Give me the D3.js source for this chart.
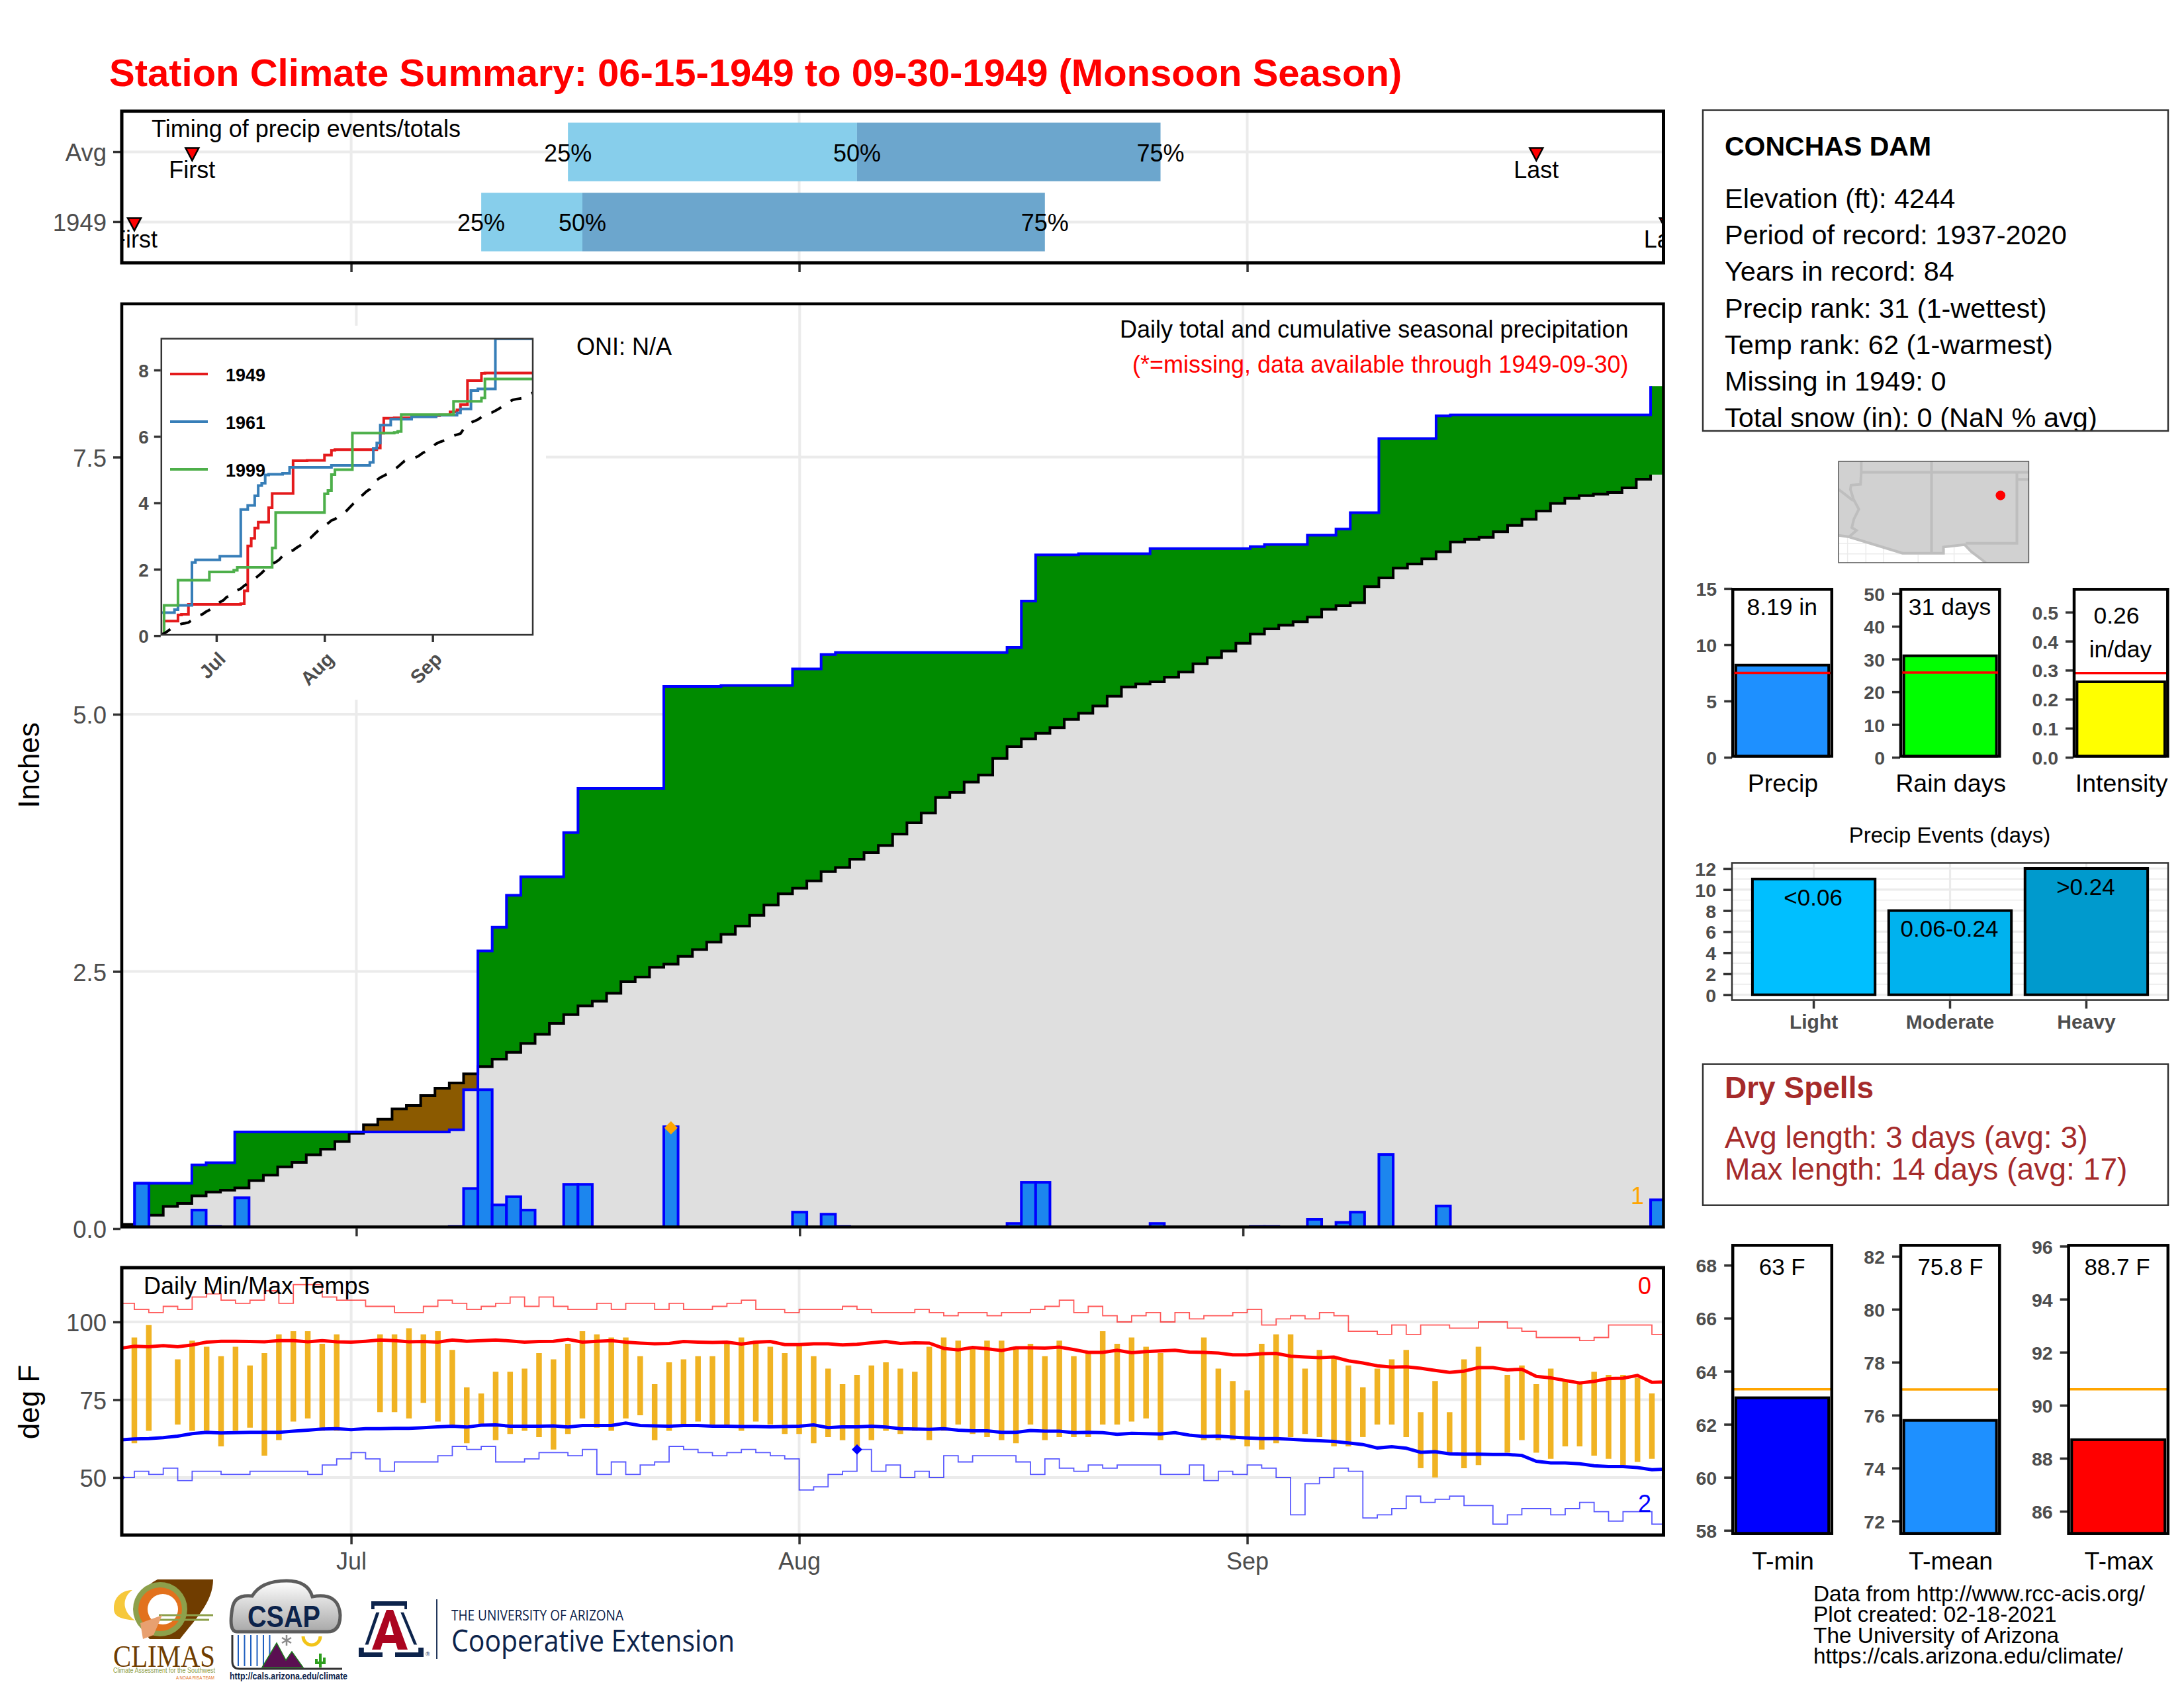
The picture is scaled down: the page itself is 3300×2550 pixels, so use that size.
<!DOCTYPE html>
<html>
<head>
<meta charset="utf-8">
<script src="https://cdn.jsdelivr.net/npm/d3@7"></script>
<style>
  html, body { margin: 0; padding: 0; background: #fff; }
  text { font-family: "Liberation Sans", Arial, sans-serif; }
</style>
</head>
<body>
<svg id="chart" width="3300" height="2550"></svg>
<script>
// day index: 0 = Jun 15, 107 = Sep 30
const monthDays = [16, 47, 78];
const monthNames = ["Jul", "Aug", "Sep"];

// timing panel
const timingRows = ["Avg", "1949"];
const timingQ25 = [31, 25];
const timingQ50 = [51, 32];
const timingQ75 = [72, 64];
const timingFirst = [5, 1];
const timingLast = [98, 107];

// daily precip (only the days with rain)
const rainDayIndex = [1, 5, 6, 8, 23, 24, 25, 26, 27, 28, 31, 32, 38, 42, 47, 49, 50, 62, 63, 64, 67, 72, 79, 80, 83, 85, 86, 88, 92, 93, 107];
const rainAmounts = [0.44, 0.18, 0.02, 0.30, 0.02, 0.39, 1.35, 0.23, 0.31, 0.18, 0.43, 0.43, 0.99, 0.01, 0.16, 0.14, 0.02, 0.05, 0.45, 0.45, 0.01, 0.05, 0.02, 0.02, 0.09, 0.06, 0.16, 0.72, 0.22, 0.01, 0.28];

// long term average cumulative precip
const avgCumulative = [
  0.04, 0.06, 0.13, 0.215, 0.245, 0.318, 0.355, 0.374, 0.396, 0.466,
  0.52, 0.60, 0.643, 0.717, 0.772, 0.846, 0.927, 1.008, 1.064, 1.163,
  1.197, 1.293, 1.364, 1.415, 1.504, 1.575, 1.648, 1.714, 1.80, 1.888,
  1.995, 2.08, 2.165, 2.21, 2.287, 2.40, 2.446, 2.54, 2.57, 2.647,
  2.713, 2.785, 2.86, 2.94, 3.045, 3.145, 3.255, 3.31, 3.38, 3.47,
  3.51, 3.59, 3.655, 3.725, 3.835, 3.945, 4.04, 4.19, 4.24, 4.34,
  4.41, 4.57, 4.685, 4.76, 4.815, 4.87, 4.95, 5.01, 5.08, 5.175,
  5.265, 5.295, 5.315, 5.36, 5.41, 5.49, 5.55, 5.615, 5.69, 5.78,
  5.83, 5.865, 5.90, 5.945, 6.02, 6.055, 6.085, 6.24, 6.325, 6.42,
  6.46, 6.51, 6.58, 6.675, 6.70, 6.72, 6.775, 6.835, 6.895, 6.975,
  7.05, 7.10, 7.125, 7.14, 7.155, 7.20, 7.285, 7.33
];

// inset analog years, change points only
const analog1961Days = [0, 4, 5, 9, 10, 17, 23, 25, 27, 28, 29, 30, 31, 35, 37, 49, 60, 61, 62, 63, 66, 72, 79, 85, 86, 89, 91, 96];
const analog1961Values = [0.69, 0.78, 0.91, 2.2, 2.28, 2.39, 3.80, 3.92, 4.21, 4.52, 4.59, 4.84, 4.86, 4.89, 5.07, 5.13, 5.22, 5.64, 5.80, 6.34, 6.52, 6.59, 6.64, 6.71, 6.83, 7.38, 7.43, 8.94];
const analog1999Days = [0, 1, 5, 14, 21, 22, 32, 33, 47, 48, 49, 50, 55, 67, 68, 69, 84, 92, 93];
const analog1999Values = [0, 0.91, 1.67, 1.92, 1.97, 2.06, 2.64, 3.71, 4.27, 4.37, 4.85, 5.0, 6.10, 6.12, 6.15, 6.66, 7.06, 7.16, 7.73];
const legendYears = ["1949", "1961", "1999"];

// daily temps
const tMax = [
  null, 95, 99, null, 88, 94, 92, 89, 92, 86,
  90, 96, 97, 97, 93, 96, null, null, 96, 96,
  98, 96, 97, 91, 79, 77, 84, 84, 85, 90,
  88, 93, 97, 96, 95, 95, 89, 80, 87, 88,
  89, 89, 93, 95, 94, 92, 90, 93, 89, 85,
  80, 83, 86, 87, 85, 84, 92, 95, 94, 92,
  94, 94, 92, 93, 89, 94, 89, 90, 97, 93,
  95, 92, 90, null, null, 95, 85, 81, 78, 93,
  96, 96, 85, 91, 89, 86, 79, 85, 88, 91,
  71, 81, 71, 88, 92, null, 83, 86, 80, 85,
  81, 80, 84, 83, 83, 82, 77, null
];
const tMin = [
  null, 61, 65, null, 67, 65, 65, 60, 65, 66,
  57, 62, 68, 69, 65, 65, null, null, 71, 71,
  69, 74, 68, 66, 61, 67, 62, 64, 65, 63,
  59, 64, 69, 66, 65, 69, 70, 62, 65, 67,
  68, 67, 66, 65, 68, 67, 64, 64, 61, 63,
  62, 60, 62, 65, 64, 65, 62, 65, 67, 64,
  63, 62, 61, 67, 62, 63, 63, 63, 67, 67,
  68, 69, 62, null, null, 62, 62, 62, 60, 59,
  61, 63, 64, 63, 60, 60, 63, 67, 67, 63,
  53, 50, 58, 53, 54, null, 58, 62, 58, 56,
  60, 60, 57, 56, 54, 55, 56, null
];
const tMaxAvg = [
  91.5, 92.2, 92.0, 92.4, 92.0, 92.6, 93.5, 93.8, 93.8, 93.7,
  93.6, 94.0, 94.0, 93.6, 94.0, 93.6, 93.5, 93.8, 94.2, 94.0,
  93.6, 93.7, 93.5, 94.2, 93.8, 94.0, 94.2, 93.9, 93.5, 93.7,
  93.8, 94.4, 93.5, 93.8, 94.0, 93.5, 93.2, 93.0, 93.1, 93.7,
  93.5, 93.4, 93.5, 92.9, 93.5, 93.7, 92.7, 92.7, 93.0, 93.0,
  92.6, 92.8, 93.3, 93.7, 93.1, 93.3, 93.2, 91.5, 91.0, 91.8,
  91.4, 90.8, 91.7, 91.7, 91.6, 91.9, 91.1, 90.2, 90.2, 90.9,
  90.1, 90.5, 90.7, 90.9, 90.3, 90.2, 90.0, 89.4, 89.4, 89.8,
  89.9, 89.0, 88.7, 88.5, 88.7, 87.5, 86.8, 85.9, 85.5, 85.6,
  85.1, 84.4, 83.8, 84.2, 85.3, 85.3, 84.6, 84.8, 82.5, 82.0,
  81.2, 80.4, 80.9, 81.8, 81.9, 82.8, 80.6, 80.7
];
const tMinAvg = [
  62.1, 62.4, 62.5, 62.8, 63.3, 64.1, 64.5, 64.3, 64.4, 64.5,
  64.5, 64.5, 64.9, 65.2, 65.6, 65.7, 65.4, 65.7, 65.7, 65.8,
  65.8, 66.0, 66.3, 66.5, 66.2, 66.8, 66.9, 66.5, 66.5, 66.5,
  66.6, 66.2, 66.7, 66.7, 66.7, 67.5, 66.7, 66.6, 66.5, 66.7,
  66.7, 66.5, 66.5, 66.4, 66.4, 66.3, 66.4, 66.5, 66.9, 66.0,
  66.3, 66.3, 66.5, 66.2, 65.7, 65.6, 65.5, 65.7, 65.2, 65.0,
  65.0, 64.5, 64.5, 65.1, 64.9, 64.9, 64.4, 64.5, 64.4, 63.9,
  64.2, 64.1, 64.0, 64.4, 63.6, 63.2, 63.3, 63.0, 62.7, 62.5,
  62.5, 62.3, 62.0, 61.8, 61.6, 61.1, 60.6, 59.5, 59.9, 59.4,
  58.1, 58.3, 57.6, 57.5, 57.5, 57.4, 57.4, 57.1, 55.2, 54.7,
  54.7, 54.4, 53.8, 53.5, 53.5, 53.2, 52.5, 52.7
];
const recordHigh = [
  106, 104, 103, 105, 104, 108, 109, 107, 106, 107,
  110, 106, 112, 112, 108, 107, 107, 105, 105, 103,
  103, 105, 107, 106, 104, 105, 106, 108, 105, 108,
  105, 104, 104, 106, 104, 106, 106, 104, 106, 104,
  104, 105, 106, 107, 104, 104, 103, 104, 104, 104,
  105, 104, 103, 103, 103, 104, 103, 102, 103, 103,
  102, 103, 103, 104, 105, 107, 103, 105, 102, 100,
  102, 103, 100, 103, 101, 102, 102, 103, 104, 99,
  101, 102, 101, 103, 102, 97, 97, 96, 99, 96,
  99, 99, 98, 98, 100, 100, 98, 97, 95, 95,
  95, 94, 95, 99, 99, 99, 96, 96
];
const recordLow = [
  50, 52, 51, 53, 49, 52, 52, 51, 51, 52,
  52, 52, 52, 51, 54, 56, 58, 56, 52, 55,
  55, 55, 57, 60, 59, 60, 55, 55, 56, 58,
  58, 57, 59, 51, 55, 51, 54, 55, 60, 59,
  58, 57, 58, 59, 58, 57, 56, 46, 47, 51,
  52, 59, 52, 54, 50, 52, 50, 57, 55, 57,
  57, 57, 55, 51, 56, 53, 52, 54, 53, 54,
  54, 54, 51, 51, 54, 49, 52, 51, 54, 53,
  50, 38, 48, 50, 53, 52, 37, 38, 40, 44,
  42, 43, 44, 41, 41, 35, 38, 40, 40, 38,
  40, 42, 39, 36, 39, 39, 35, 35
];
const precipRecordDay = [38];
const precipRecordValue = [0.98];
const lowRecordDays = [0, 51];
const lowRecordValues = [50, 59];

// station text
const stationName = "CONCHAS DAM";
const stationLines = ["Elevation (ft): 4244", "Period of record: 1937-2020", "Years in record: 84", "Precip rank: 31 (1-wettest)", "Temp rank: 62 (1-warmest)", "Missing in 1949: 0", "Total snow (in): 0 (NaN % avg)"];
const drySpellLines = ["Avg length: 3 days (avg: 3)", "Max length: 14 days (avg: 17)"];
const footerLines = ["Data from http://www.rcc-acis.org/", "Plot created: 02-18-2021", "The University of Arizona", "https://cals.arizona.edu/climate/"];

// summary bars
const precipSummaryNames = ["Precip", "Rain days", "Intensity"];
const precipSummaryValues = [8.19, 31, 0.26];
const precipSummaryAvg = [7.5, 25.9, 0.29];
const tempSummaryNames = ["T-min", "T-mean", "T-max"];
const tempSummaryValues = [63, 75.8, 88.7];
const tempSummaryAvg = [63.32, 76.97, 90.6];
const eventNames = ["Light", "Moderate", "Heavy"];
const eventValues = [11, 8, 12];
const eventLabels = ["<0.06", "0.06-0.24", ">0.24"];

// little locator map, lon/lat
const mexicoBorder = [[-115.64, 32.56], [-114.9, 32.45], [-111.1, 31.3], [-108.2, 31.3], [-108.2, 31.74], [-106.7, 31.9], [-106.25, 31.42], [-105.2, 30.63]];
const azWestBorder = [[-114.03, 37.77], [-114.03, 37], [-114.08, 36.15], [-114.75, 36.1], [-114.8, 35.8], [-114.58, 35.1], [-114.2, 34.4], [-114.35, 34.1], [-114.55, 33.7], [-114.7, 33.1], [-114.37, 32.9], [-114.9, 32.45]];
const caNvBorder = [[-115.64, 35.8], [-114.6, 35.0]];
const stateLines = [
  [[-109.05, 37.77], [-109.05, 31.33]],
  [[-114.03, 37], [-102.16, 37]],
  [[-103, 37], [-103, 32], [-106.62, 32]],
  [[-103, 36.5], [-102.16, 36.5]]
];
const graticuleLons = [-115, -113.7, -112.45, -110, -107.45];
const graticuleLats = [32, 31.25];
const stationLonLat = [-104.16, 35.37];

// ------- helpers
const svg = d3.select("#chart");
const GREY_TEXT = "#4D4D4D", GRID = "#EBEBEB", TICK = "#333333";
const days = d3.range(108);

function label(g, x, y, str, size, opts) {
  const o = opts || {};
  const t = g.append("text")
    .attr("x", x).attr("y", y).attr("dy", "0.39em")
    .attr("font-size", size)
    .attr("text-anchor", o.anchor || "start")
    .attr("font-weight", o.weight || "normal")
    .attr("fill", o.fill || "#000")
    .text(str);
  if (o.length) t.attr("textLength", o.length).attr("lengthAdjust", "spacingAndGlyphs");
  if (o.family) t.style("font-family", o.family);
  return t;
}

function styleAxis(g, size, weight) {
  g.select(".domain").remove();
  g.selectAll("line").attr("stroke", TICK).attr("stroke-width", 3.5);
  g.selectAll("text").attr("fill", GREY_TEXT).attr("font-size", size)
    .attr("font-weight", weight || "normal")
    .style("font-family", '"Liberation Sans", Arial, sans-serif');
  return g;
}

// left axes sit a touch lower than d3's default text offset
function leftAxisText(g) {
  g.selectAll("text").attr("dy", "0.37em");
  return g;
}

function addClip(id, x, y, w, h) {
  svg.append("clipPath").attr("id", id).append("rect")
    .attr("x", x).attr("y", y).attr("width", w).attr("height", h);
}

function frame(x0, y0, x1, y1, sw, color) {
  svg.append("rect").attr("x", x0).attr("y", y0).attr("width", x1 - x0).attr("height", y1 - y0)
    .attr("fill", "none").attr("stroke", color || "#000").attr("stroke-width", sw);
}

function monthGrid(g, xs, y0, y1) {
  g.selectAll(null).data(monthDays).enter().append("line")
    .attr("x1", xs).attr("x2", xs).attr("y1", y0).attr("y2", y1)
    .attr("stroke", GRID).attr("stroke-width", 4);
}

const L = 184, R = 2513.5;

// title
label(svg, 165, 107, "Station Climate Summary: 06-15-1949 to 09-30-1949 (Monsoon Season)", 58, { weight: "bold", fill: "#FF0000" });

// ------- timing panel
const topT = 168, topB = 397;
const xDate = d3.scaleLinear().domain([0.13, 106.8]).range([L, R]);
const yTiming = d3.scaleBand().domain(timingRows).range([topT, topB]).padding(0.164);
addClip("clipTop", L, topT, R - L, topB - topT);
const timing = svg.append("g").attr("clip-path", "url(#clipTop)");
monthGrid(timing, d => xDate(d), topT, topB);
timing.selectAll(null).data(timingRows).enter().append("line")
  .attr("x1", L).attr("x2", R)
  .attr("y1", d => yTiming(d) + yTiming.bandwidth() / 2).attr("y2", d => yTiming(d) + yTiming.bandwidth() / 2)
  .attr("stroke", GRID).attr("stroke-width", 4);
timing.selectAll(null).data(timingRows).enter().append("rect")
  .attr("x", (d, i) => xDate(timingQ25[i])).attr("y", d => yTiming(d))
  .attr("width", (d, i) => xDate(timingQ50[i]) - xDate(timingQ25[i])).attr("height", yTiming.bandwidth())
  .attr("fill", "#87CEEB");
timing.selectAll(null).data(timingRows).enter().append("rect")
  .attr("x", (d, i) => xDate(timingQ50[i])).attr("y", d => yTiming(d))
  .attr("width", (d, i) => xDate(timingQ75[i]) - xDate(timingQ50[i])).attr("height", yTiming.bandwidth())
  .attr("fill", "#6CA6CD");
timingRows.forEach((row, i) => {
  const cy = yTiming(row) + yTiming.bandwidth() / 2;
  [[timingQ25[i], "25%"], [timingQ50[i], "50%"], [timingQ75[i], "75%"]].forEach(q => {
    label(timing, xDate(q[0]), cy, q[1], 36, { anchor: "middle" });
  });
  [[timingFirst[i], "First"], [timingLast[i], "Last"]].forEach(m => {
    const mx = xDate(m[0]);
    timing.append("path").attr("d", `M${mx - 10},${cy - 6}L${mx + 10},${cy - 6}L${mx},${cy + 13}Z`)
      .attr("fill", "#FF0000").attr("stroke", "#000").attr("stroke-width", 2.5);
    label(timing, mx, cy + 25, m[1], 36, { anchor: "middle" });
  });
});
label(timing, 229, 193, "Timing of precip events/totals", 36);
styleAxis(svg.append("g").attr("transform", `translate(${L - 2},0)`)
  .call(d3.axisLeft(yTiming).tickSize(11).tickPadding(10)), 36.5).call(leftAxisText);
svg.append("g").attr("transform", `translate(0,${topB + 2})`)
  .call(d3.axisBottom(xDate).tickValues(monthDays).tickSize(12).tickFormat(""))
  .call(g => styleAxis(g, 10));
frame(L, topT, R, topB, 5);

// ------- main precip panel
const mainT = 459, mainB = 1853.5;
const xMain = d3.scaleLinear().domain([-0.4, 107.4]).range([L, R]);
const yMain = d3.scaleLinear().domain([0, 2.5, 5, 7.5]).range([1856, 1467.5, 1079, 690.5]);
const dailyPrecip = days.map(d => { const k = rainDayIndex.indexOf(d); return k < 0 ? 0 : rainAmounts[k]; });
const cumulative = Array.from(d3.cumsum(dailyPrecip));

// each day holds its value across the width of its bar
const stepRows = days.flatMap(d => [
  { x: d - 0.5, cum: cumulative[d], avg: avgCumulative[d] },
  { x: d + 0.5, cum: cumulative[d], avg: avgCumulative[d] }
]);
const lineRows = stepRows.slice(0, -1);

addClip("clipMain", L, mainT, R - L, mainB - mainT);
const main = svg.append("g").attr("clip-path", "url(#clipMain)");
monthGrid(main, d => xMain(d), mainT, mainB);
main.selectAll(null).data([2.5, 5, 7.5]).enter().append("line")
  .attr("x1", L).attr("x2", R).attr("y1", d => yMain(d)).attr("y2", d => yMain(d))
  .attr("stroke", GRID).attr("stroke-width", 4);

main.append("path").datum(stepRows).attr("fill", "#DFDFDF")
  .attr("d", d3.area().x(d => xMain(d.x)).y0(yMain(0)).y1(d => yMain(Math.min(d.cum, d.avg))));
main.append("path").datum(stepRows).attr("fill", "#008B00")
  .attr("d", d3.area().x(d => xMain(d.x)).y0(d => yMain(d.avg)).y1(d => yMain(Math.max(d.cum, d.avg))));
main.append("path").datum(stepRows).attr("fill", "#8B5A00")
  .attr("d", d3.area().x(d => xMain(d.x)).y0(d => yMain(Math.min(d.cum, d.avg))).y1(d => yMain(d.avg)));
main.append("path").datum(lineRows).attr("fill", "none").attr("stroke", "#000").attr("stroke-width", 4)
  .attr("d", d3.line().x(d => xMain(d.x)).y(d => yMain(d.avg)));
main.append("path").datum(lineRows).attr("fill", "none").attr("stroke", "#0000FF").attr("stroke-width", 4)
  .attr("d", d3.line().x(d => xMain(d.x)).y(d => yMain(d.cum)));
main.selectAll(null).data(rainDayIndex).enter().append("rect")
  .attr("x", d => xMain(d - 0.5)).attr("width", xMain(1) - xMain(0))
  .attr("y", (d, i) => yMain(rainAmounts[i])).attr("height", (d, i) => yMain(0) - yMain(rainAmounts[i]))
  .attr("fill", "#1C86EE").attr("stroke", "#0000FF").attr("stroke-width", 4);
main.selectAll(null).data(precipRecordDay).enter().append("path")
  .attr("d", d3.symbol(d3.symbolSquare, 200))
  .attr("transform", (d, i) => `translate(${xMain(d)},${yMain(precipRecordValue[i])}) rotate(45)`)
  .attr("fill", "#FFA500");
label(main, 2474, 1805, "1", 36, { anchor: "middle", fill: "#FFA500" });
label(main, 2460.5, 496, "Daily total and cumulative seasonal precipitation", 36, { anchor: "end" });
label(main, 2460.5, 549, "(*=missing, data available through 1949-09-30)", 36, { anchor: "end", fill: "#FF0000" });

// white plate behind the inset
main.append("rect").attr("x", L).attr("y", 492).attr("width", 825 - L).attr("height", 1057 - 492).attr("fill", "#fff");
label(svg, 871, 522, "ONI: N/A", 36);

styleAxis(svg.append("g").attr("transform", `translate(${L - 2},0)`)
  .call(d3.axisLeft(yMain).tickValues([0, 2.5, 5, 7.5]).tickFormat(d3.format(".1f")).tickSize(11).tickPadding(10)), 36.5).call(leftAxisText);
svg.append("g").attr("transform", `translate(0,${mainB + 2})`)
  .call(d3.axisBottom(xMain).tickValues(monthDays).tickSize(12).tickFormat(""))
  .call(g => styleAxis(g, 10));
frame(L, mainT, R, mainB, 4.5);
label(svg, 0, 0, "Inches", 44, { anchor: "middle" }).attr("transform", "translate(42,1156) rotate(-90)");

// ------- inset
const inL = 243.8, inR = 805, inT = 511.6, inB = 959;
const xInset = d3.scaleLinear().domain([0.23, 106.72]).range([inL, inR]);
const yInset = d3.scaleLinear().domain([0, 8]).range([960.2, 559]);
addClip("clipInset", inL, inT, inR - inL, inB - inT);
const inset = svg.append("g").attr("clip-path", "url(#clipInset)");
const stepAfter = d3.line().curve(d3.curveStepAfter).x(d => xInset(d[0])).y(d => yInset(d[1]));
const inset1949 = days.map(d => [d, cumulative[d]]);
const inset1961 = analog1961Days.map((d, i) => [d, analog1961Values[i]]).concat([[107, 8.94]]);
const inset1999 = analog1999Days.map((d, i) => [d, analog1999Values[i]]).concat([[107, 7.73]]);
const insetColors = ["#E41A1C", "#377EB8", "#4DAF4A"];
[inset1949, inset1961, inset1999].forEach((rows, i) => {
  inset.append("path").datum(rows).attr("fill", "none").attr("stroke", insetColors[i]).attr("stroke-width", 4).attr("d", stepAfter);
});
inset.append("path").datum(days.map(d => [d, avgCumulative[d]])).attr("fill", "none")
  .attr("stroke", "#000").attr("stroke-width", 4).attr("stroke-dasharray", "17 17")
  .attr("d", d3.line().x(d => xInset(d[0])).y(d => yInset(d[1])));
legendYears.forEach((yr, i) => {
  const ly = 565 + i * 72;
  svg.append("line").attr("x1", 257).attr("x2", 314).attr("y1", ly).attr("y2", ly)
    .attr("stroke", insetColors[i]).attr("stroke-width", 4);
  label(svg, 341, ly, yr, 27, { weight: "bold" });
});
styleAxis(svg.append("g").attr("transform", `translate(${inL - 1},0)`)
  .call(d3.axisLeft(yInset).tickValues([0, 2, 4, 6, 8]).tickSize(10).tickPadding(8)), 28, "bold").call(leftAxisText);
svg.append("g").attr("transform", `translate(0,${inB + 1})`)
  .call(d3.axisBottom(xInset).tickValues(monthDays).tickSize(10).tickFormat((d, i) => monthNames[i]))
  .call(g => styleAxis(g, 29, "bold"))
  .call(g => g.selectAll("text").attr("x", 0).attr("y", 0).attr("dy", "0.36em")
    .attr("text-anchor", "end").attr("transform", "translate(8,30) rotate(-45)"));
frame(inL, inT, inR, inB, 2.5, TICK);

// ------- temp panel
const tmpT = 1915, tmpB = 2319;
const yTemp = d3.scaleLinear().domain([50, 75, 100]).range([2232, 2114.5, 1997]);
addClip("clipTemp", L, tmpT, R - L, tmpB - tmpT);
const temp = svg.append("g").attr("clip-path", "url(#clipTemp)");
monthGrid(temp, d => xDate(d), tmpT, tmpB);
temp.selectAll(null).data([50, 75, 100]).enter().append("line")
  .attr("x1", L).attr("x2", R).attr("y1", d => yTemp(d)).attr("y2", d => yTemp(d))
  .attr("stroke", GRID).attr("stroke-width", 4);
temp.selectAll(null).data(days.filter(d => tMax[d] !== null)).enter().append("line")
  .attr("x1", d => xDate(d)).attr("x2", d => xDate(d))
  .attr("y1", d => yTemp(tMax[d])).attr("y2", d => yTemp(tMin[d]))
  .attr("stroke", "#F0B323").attr("stroke-width", 8.5);
const tempStep = d3.line().curve(d3.curveStepAfter).x(d => xDate(d[0])).y(d => yTemp(d[1]));
const tempLine = d3.line().x(d => xDate(d[0])).y(d => yTemp(d[1]));
temp.append("path").datum(days.map(d => [d, recordHigh[d]])).attr("fill", "none")
  .attr("stroke", "#FF0000").attr("stroke-opacity", 0.65).attr("stroke-width", 1.8).attr("d", tempStep);
temp.append("path").datum(days.map(d => [d, recordLow[d]])).attr("fill", "none")
  .attr("stroke", "#0000FF").attr("stroke-opacity", 0.65).attr("stroke-width", 1.8).attr("d", tempStep);
temp.append("path").datum(days.map(d => [d, tMaxAvg[d]])).attr("fill", "none")
  .attr("stroke", "#FF0000").attr("stroke-width", 5).attr("d", tempLine);
temp.append("path").datum(days.map(d => [d, tMinAvg[d]])).attr("fill", "none")
  .attr("stroke", "#0000FF").attr("stroke-width", 5).attr("d", tempLine);
temp.selectAll(null).data(lowRecordDays).enter().append("path")
  .attr("d", d3.symbol(d3.symbolSquare, 125))
  .attr("transform", (d, i) => `translate(${xDate(d)},${yTemp(lowRecordValues[i])}) rotate(45)`)
  .attr("fill", "#0000FF");
label(temp, 217, 1941, "Daily Min/Max Temps", 36);
label(temp, 2485, 1941, "0", 36, { anchor: "middle", fill: "#FF0000" });
label(temp, 2485, 2270, "2", 36, { anchor: "middle", fill: "#0000FF" });
styleAxis(svg.append("g").attr("transform", `translate(${L - 2},0)`)
  .call(d3.axisLeft(yTemp).tickValues([50, 75, 100]).tickSize(11).tickPadding(10)), 36.5).call(leftAxisText);
svg.append("g").attr("transform", `translate(0,${tmpB + 2})`)
  .call(d3.axisBottom(xDate).tickValues(monthDays).tickSize(12).tickPadding(12).tickFormat((d, i) => monthNames[i]))
  .call(g => styleAxis(g, 36));
frame(L, tmpT, R, tmpB, 5);
label(svg, 0, 0, "deg F", 44, { anchor: "middle" }).attr("transform", "translate(42,2118) rotate(-90)");

// ------- station box
addClip("clipStation", 2573, 166, 703, 485);
const station = svg.append("g").attr("clip-path", "url(#clipStation)");
label(station, 2606, 219.5, stationName, 41, { weight: "bold" });
stationLines.forEach((s, i) => label(station, 2606, 297.5 + i * 55.3, s, 41.5));
frame(2573, 166.5, 3276, 651, 2.5, TICK);

// ------- locator map
const mapL = 2778, mapR = 3065.4, mapT = 697, mapB = 850;
const xMap = d3.scaleLinear().domain([-115.64, -102.16]).range([mapL, mapR]);
const yMap = d3.scaleLinear().domain([37.77, 30.63]).range([mapT, mapB]);
const mapLine = d3.line().x(d => xMap(d[0])).y(d => yMap(d[1]));
addClip("clipMap", mapL, mapT, mapR - mapL, mapB - mapT);
const locator = svg.append("g").attr("clip-path", "url(#clipMap)");
locator.selectAll(null).data(graticuleLons).enter().append("line")
  .attr("x1", d => xMap(d)).attr("x2", d => xMap(d)).attr("y1", mapT).attr("y2", mapB)
  .attr("stroke", GRID).attr("stroke-width", 1.5);
locator.selectAll(null).data(graticuleLats).enter().append("line")
  .attr("y1", d => yMap(d)).attr("y2", d => yMap(d)).attr("x1", mapL).attr("x2", mapR)
  .attr("stroke", GRID).attr("stroke-width", 1.5);
const landOutline = [[-115.64, 37.77], [-102.16, 37.77], [-102.16, 30.63]].concat(mexicoBorder.slice().reverse());
locator.append("path").datum(landOutline).attr("fill", "#D1D1D1").attr("d", d => mapLine(d) + "Z");
[mexicoBorder.slice(0), azWestBorder, caNvBorder].concat(stateLines).forEach(part => {
  locator.append("path").datum(part).attr("fill", "none").attr("stroke", "#BEBEBE").attr("stroke-width", 4).attr("d", mapLine);
});
locator.append("circle").attr("cx", xMap(stationLonLat[0])).attr("cy", yMap(stationLonLat[1])).attr("r", 7.3).attr("fill", "#FF0000");
frame(mapL, mapT, mapR, mapB, 1.5, "#555");

// ------- summary bars
function summaryBar(cfg) {
  const x = d3.scaleBand().domain([cfg.name]).range([cfg.left, cfg.right]).paddingOuter(0.033);
  const y = d3.scaleLinear().domain(cfg.domain).range(cfg.range);
  svg.append("rect").attr("x", cfg.left).attr("y", cfg.top).attr("width", cfg.right - cfg.left).attr("height", cfg.bottom - cfg.top).attr("fill", "#fff");
  svg.append("rect").attr("x", x(cfg.name)).attr("y", y(cfg.value))
    .attr("width", x.bandwidth()).attr("height", cfg.bottom - y(cfg.value))
    .attr("fill", cfg.fill).attr("stroke", "#000").attr("stroke-width", 4);
  svg.append("line").attr("x1", x(cfg.name) - 3).attr("x2", x(cfg.name) + x.bandwidth() + 3)
    .attr("y1", y(cfg.ref)).attr("y2", y(cfg.ref))
    .attr("stroke", cfg.refColor).attr("stroke-width", 3.5);
  styleAxis(svg.append("g").attr("transform", `translate(${cfg.left - 1},0)`)
    .call(d3.axisLeft(y).tickValues(cfg.ticks).tickFormat(cfg.format || d3.format("d")).tickSize(12).tickPadding(11)), 28.5, "bold").call(leftAxisText);
  frame(cfg.left, cfg.top, cfg.right, cfg.bottom, 4.5);
  label(svg, (cfg.left + cfg.right) / 2 + 1, cfg.labelY, cfg.name, 37.5, { anchor: "middle" });
}
const precipFrames = [[2618.2, 2767.8], [2872, 3021.3], [3134, 3275.3]];
const precipRanges = [[1144, 889], [1144, 896.7], [1144, 924.7]];
const precipDomains = [[0, 15], [0, 50], [0, 0.5]];
const precipTicks = [[0, 5, 10, 15], [0, 10, 20, 30, 40, 50], [0, 0.1, 0.2, 0.3, 0.4, 0.5]];
const precipFills = ["#1E90FF", "#00FF00", "#FFFF00"];
precipSummaryNames.forEach((name, i) => summaryBar({
  name, value: precipSummaryValues[i], ref: precipSummaryAvg[i], refColor: "#FF0000",
  left: precipFrames[i][0], right: precipFrames[i][1], top: 890.3, bottom: 1142.4,
  domain: precipDomains[i], range: precipRanges[i], ticks: precipTicks[i], fill: precipFills[i],
  format: i === 2 ? d3.format(".1f") : null, labelY: 1181
}));
label(svg, 2692.7, 915, "8.19 in", 35.5, { anchor: "middle" });
label(svg, 2946, 915, "31 days", 35.5, { anchor: "middle" });
label(svg, 3198, 928, "0.26", 35.5, { anchor: "middle" });
label(svg, 3204, 979.5, "in/day", 35.5, { anchor: "middle" });

const tempFrames = [[2618.2, 2767.8], [2872, 3021.3], [3125.6, 3275.8]];
const tempRanges = [[2311.8, 1911.3], [2297.7, 1897.8], [2283, 1882.5]];
const tempDomains = [[58, 68], [72, 82], [86, 96]];
const tempFills = ["#0000FF", "#1E90FF", "#FF0000"];
tempSummaryNames.forEach((name, i) => summaryBar({
  name, value: tempSummaryValues[i], ref: tempSummaryAvg[i], refColor: "#FFA500",
  left: tempFrames[i][0], right: tempFrames[i][1], top: 1881.3, bottom: 2316.7,
  domain: tempDomains[i], range: tempRanges[i], ticks: d3.range(tempDomains[i][0], tempDomains[i][1] + 1, 2), fill: tempFills[i],
  labelY: 2356.5
}));
["63 F", "75.8 F", "88.7 F"].forEach((s, i) => label(svg, [2692.7, 2947, 3199][i], 1912.5, s, 35, { anchor: "middle" }));

// ------- precip events
const evL = 2617, evR = 3276, evT = 1303.5, evB = 1510.6;
const xEvents = d3.scaleBand().domain(eventNames).range([evL, evR]).paddingInner(0.1).paddingOuter(0.15);
const yEvents = d3.scaleLinear().domain([0, 12]).range([1502.8, 1312]);
label(svg, 2946, 1260, "Precip Events (days)", 33, { anchor: "middle" });
svg.selectAll(null).data(d3.range(1, 13, 2)).enter().append("line")
  .attr("x1", evL).attr("x2", evR).attr("y1", d => yEvents(d)).attr("y2", d => yEvents(d))
  .attr("stroke", GRID).attr("stroke-width", 1.6);
svg.selectAll(null).data(d3.range(0, 13, 2)).enter().append("line")
  .attr("x1", evL).attr("x2", evR).attr("y1", d => yEvents(d)).attr("y2", d => yEvents(d))
  .attr("stroke", GRID).attr("stroke-width", 3.2);
svg.selectAll(null).data(eventNames).enter().append("line")
  .attr("x1", d => xEvents(d) + xEvents.bandwidth() / 2).attr("x2", d => xEvents(d) + xEvents.bandwidth() / 2)
  .attr("y1", evT).attr("y2", evB)
  .attr("stroke", GRID).attr("stroke-width", 3.2);
const eventFills = ["#00BFFF", "#00B2EE", "#009ACD"];
svg.selectAll(null).data(eventNames).enter().append("rect")
  .attr("x", d => xEvents(d)).attr("width", xEvents.bandwidth())
  .attr("y", (d, i) => yEvents(eventValues[i])).attr("height", (d, i) => yEvents(0) - yEvents(eventValues[i]))
  .attr("fill", (d, i) => eventFills[i]).attr("stroke", "#000").attr("stroke-width", 4);
eventNames.forEach((d, i) => label(svg, xEvents(d) + xEvents.bandwidth() / 2 - 1, yEvents(eventValues[i]) + 26, eventLabels[i], 35, { anchor: "middle" }));
styleAxis(svg.append("g").attr("transform", `translate(${evL - 1},0)`)
  .call(d3.axisLeft(yEvents).tickValues(d3.range(0, 13, 2)).tickSize(12).tickPadding(11)), 28.5, "bold").call(leftAxisText);
styleAxis(svg.append("g").attr("transform", `translate(0,${evB + 1})`)
  .call(d3.axisBottom(xEvents).tickSize(12).tickPadding(9)), 30, "bold");
frame(evL, evT, evR, evB, 2.5, TICK);

// ------- dry spells
frame(2573, 1607.6, 3276, 1820.7, 2.5, TICK);
label(svg, 2606, 1641, "Dry Spells", 46, { weight: "bold", fill: "#A52A2A" });
drySpellLines.forEach((s, i) => label(svg, 2606, 1716 + i * 47.7, s, 46.2, { fill: "#A52A2A" }));

// ------- footer
footerLines.forEach((s, i) => label(svg, 2740, 2405.5 + i * 31.6, s, 33.4));

// ------- logos
const NAVY = "#0C234B";
const defs = svg.append("defs");
const cloudGrad = defs.append("linearGradient").attr("id", "cloudGrad").attr("x1", 0).attr("x2", 0).attr("y1", 0).attr("y2", 1);
cloudGrad.append("stop").attr("offset", "0").attr("stop-color", "#FFFFFF");
cloudGrad.append("stop").attr("offset", "1").attr("stop-color", "#A8A8A8");

const climas = svg.append("g");
climas.append("path").attr("d", "M238,2386H322C322,2420 296,2445 272,2476H226C205,2450 200,2405 238,2386Z").attr("fill", "#703D00");
climas.append("circle").attr("cx", 242).attr("cy", 2431).attr("r", 41).attr("fill", "#8DA04B");
climas.append("circle").attr("cx", 242).attr("cy", 2431).attr("r", 33).attr("fill", "#E2711D");
climas.append("circle").attr("cx", 246).attr("cy", 2431).attr("r", 23).attr("fill", "#FFFFFF");
climas.append("path").attr("d", "M172,2430C172,2408 190,2402 200,2402C186,2412 182,2432 204,2448C186,2446 172,2444 172,2430Z").attr("fill", "#F6C83B");
climas.append("path").attr("d", "M240,2440H322M240,2447H316").attr("stroke", "#8DA04B").attr("stroke-width", 3).attr("fill", "none");
climas.append("path").attr("d", "M212,2452L245,2440L232,2470L216,2476Z").attr("fill", "#E8A070");
label(climas, 248, 2500, "CLIMAS", 46, { anchor: "middle", fill: "#703D00", family: '"Liberation Serif", serif', length: 154 });
label(climas, 248, 2523, "Climate Assessment for the Southwest", 11, { anchor: "middle", fill: "#8DA04B", length: 154 });
label(climas, 295, 2534, "A NOAA RISA TEAM", 7, { anchor: "middle", fill: "#E2711D", length: 58 });

const csap = svg.append("g");
csap.append("path").attr("d", "M358,2465Q345,2465 351,2430Q354,2408 381,2411Q395,2388 433,2388Q465,2388 472,2412Q512,2405 514,2440Q514,2465 495,2465Z")
  .attr("fill", "url(#cloudGrad)").attr("stroke", "#5C5C5C").attr("stroke-width", 5);
label(csap, 429, 2440, "CSAP", 46, { anchor: "middle", weight: "bold", fill: NAVY, length: 110 });
d3.range(6).forEach(k => csap.append("line").attr("x1", 360 + k * 9.5).attr("x2", 360 + k * 9.5).attr("y1", 2470).attr("y2", 2517)
  .attr("stroke", "#1F5FBF").attr("stroke-width", 2));
csap.append("path").attr("d", "M396,2519L418,2482L432,2508L441,2495L458,2519Z").attr("fill", "#5B0F52").attr("stroke", "#1E7A1E").attr("stroke-width", 1.5);
csap.append("path").attr("d", "M351,2470V2510Q351,2521 362,2521H517").attr("fill", "none").attr("stroke", "#333").attr("stroke-width", 3);
csap.append("path").attr("d", "M433,2470V2486M426,2474L440,2482M440,2474L426,2482").attr("fill", "none").attr("stroke", "#8A8A8A").attr("stroke-width", 2.5);
csap.append("path").attr("d", "M458,2472A12,12 0 0 0 484,2472").attr("fill", "none").attr("stroke", "#F2C418").attr("stroke-width", 5);
csap.append("path").attr("d", "M484,2519V2498M478,2506V2512H490V2504").attr("fill", "none").attr("stroke", "#2E9E1E").attr("stroke-width", 4);
label(csap, 436, 2531, "http://cals.arizona.edu/climate", 15, { anchor: "middle", weight: "bold", fill: NAVY, length: 178 });

const aShape = "M561,2419H615V2431H608L632,2489H640V2503H597V2489H603L599,2478H576L572,2489H578V2503H542V2489H550L570,2431H561Z";
const ua = svg.append("g");
ua.append("path").attr("d", aShape).attr("fill", NAVY);
ua.append("path").attr("d", aShape).attr("fill", "#fff").attr("transform", "translate(591,2461) scale(0.84) translate(-591,-2461)");
ua.append("path").attr("d", "M584,2432H594L616,2492H601L598,2482H578L575,2492H562Z").attr("fill", "#AB0520");
ua.append("path").attr("d", "M589,2448L595,2470H582Z").attr("fill", "#fff");
label(ua, 643, 2498, "®", 9, { fill: NAVY });
ua.append("line").attr("x1", 660).attr("x2", 660).attr("y1", 2416).attr("y2", 2506).attr("stroke", NAVY).attr("stroke-width", 1.8);
label(ua, 682, 2440, "THE UNIVERSITY OF ARIZONA", 21, { fill: NAVY, length: 260, family: '"Open Sans", sans-serif' });
label(ua, 682, 2477, "Cooperative Extension", 46, { fill: NAVY, length: 428, family: '"Open Sans", sans-serif' });
</script>
</body>
</html>
